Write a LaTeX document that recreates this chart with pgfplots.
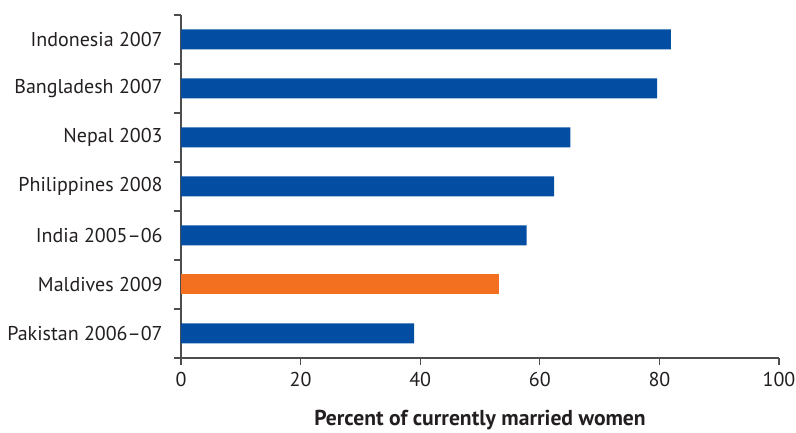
\documentclass[border=0pt]{standalone}
\usepackage{pgfplots}
\pgfplotsset{compat=1.18}
\usepackage{fontspec}
\setmainfont{PT Sans}
\definecolor{barblue}{HTML}{034EA2}
\definecolor{barorange}{HTML}{F37021}
\definecolor{axgray}{HTML}{4D4D4D}
\definecolor{txt}{HTML}{231F20}

\begin{document}
\begin{tikzpicture}
\begin{axis}[
    name=ax,
    scale only axis,
    width=448.5pt,
    height=257.25pt,
    xbar,
    bar width=15pt,
    bar shift=0pt,
    xmin=0, xmax=100,
    ymin=-0.5, ymax=6.5,
    axis x line*=bottom,
    axis y line*=left,
    axis line style={axgray, line width=1.1pt},
    xtick={0,20,...,100},
    ytick={0,...,6},
    yticklabels={Pakistan 2006--07, Maldives 2009, India 2005--06,
        Philippines 2008, Nepal 2003, Bangladesh 2007, Indonesia 2007},
    minor ytick={-0.5,0.5,...,6.5},
    tick align=outside,
    major tick length=5.25pt,
    minor tick length=5.25pt,
    tick style={axgray, line width=1pt},
    major y tick style={draw=none},
    ticklabel style={font=\fontsize{15}{18}\selectfont, text=txt},
    /pgf/number format/assume math mode=true,
    yticklabel style={xshift=-5pt},
    xticklabel style={yshift=-2pt},
    xlabel={\bfseries Percent of currently married women},
    xlabel style={font=\fontsize{16.2}{19}\selectfont, text=txt,
        at={(axis description cs:0.5,0)}, anchor=base, yshift=-51pt},
]
    \addplot[fill=barblue, draw=none] coordinates {
        (39.0,0) (57.8,2) (62.4,3) (65.1,4) (79.6,5) (81.9,6)
    };
    \addplot[fill=barorange, draw=none] coordinates {(53.1,1)};
\end{axis}
\pgfresetboundingbox
\path[use as bounding box] ([shift={(-135.75pt,-56.25pt)}]ax.south west)
    rectangle ([shift={(12.75pt,11.25pt)}]ax.north east);
\end{tikzpicture}
\end{document}
